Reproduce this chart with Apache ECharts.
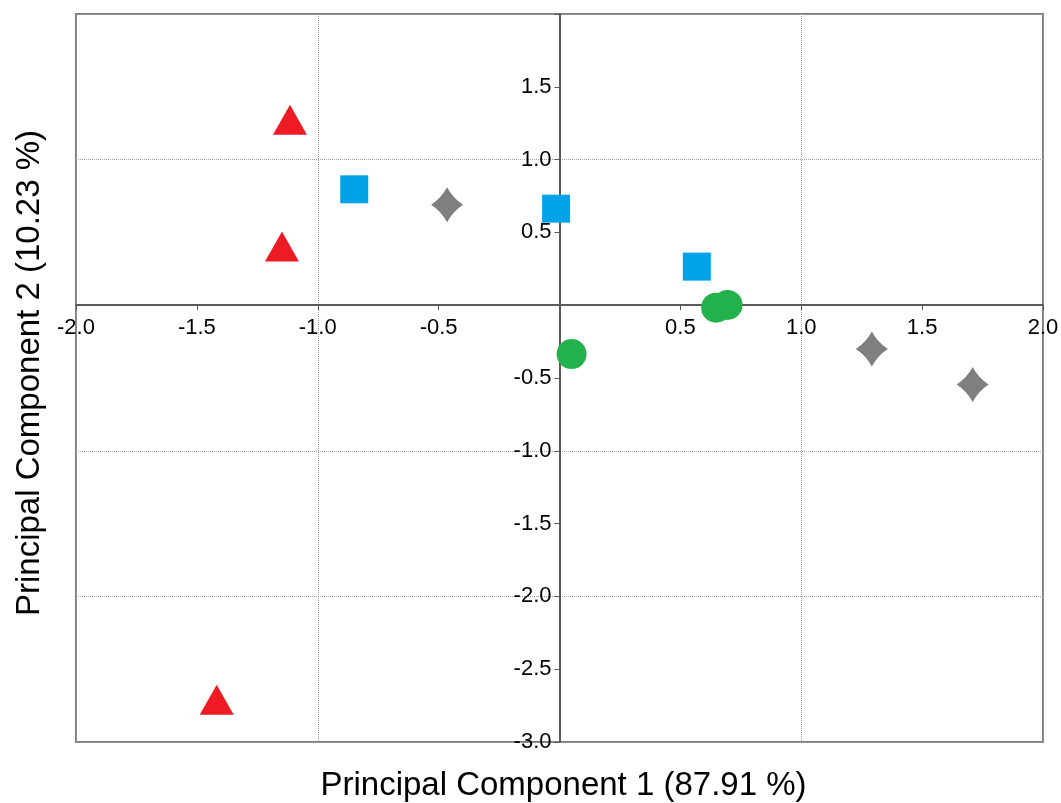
<!DOCTYPE html>
<html>
<head>
<meta charset="utf-8">
<title>PCA scores</title>
<script src="https://cdn.jsdelivr.net/npm/echarts@6/dist/echarts.min.js"></script>
<style>
  html, body { margin: 0; padding: 0; background: #fff; }
  #container { width: 1061px; height: 803px; }
</style>
</head>
<body>
<div id="container"></div>
<script>
// scores per group: [PC1, PC2]
const triangles = [[-1.115, 1.273], [-1.148, 0.403], [-1.418, -2.71]];
const squares = [[-0.849, 0.796], [-0.014, 0.663], [0.568, 0.265]];
const stars = [[-0.465, 0.69], [1.292, -0.30], [1.709, -0.544]];
const circles = [[0.05, -0.336], [0.648, -0.017], [0.695, 0.002]];

const xRange = [-2, 2];
const yRange = [-3, 2];
const xTitle = 'Principal Component 1 (87.91 %)';
const yTitle = 'Principal Component 2 (10.23 %)';

const font = '"Liberation Sans", Arial, sans-serif';
const starPath = 'path://M0,-10 Q3.7,-3.7 10,0 Q3.7,3.7 0,10 Q-3.7,3.7 -10,0 Q-3.7,-3.7 0,-10 Z';

const W = 1061, H = 803;
const gridBox = { left: 76, right: 18, top: 14, bottom: 61 };

// move the main axes in from the grid edge to the zero lines
const plotW = W - gridBox.left - gridBox.right;
const plotH = H - gridBox.top - gridBox.bottom;
const xZeroShift = plotH * (0 - yRange[0]) / (yRange[1] - yRange[0]);
const yZeroShift = plotW * (0 - xRange[0]) / (xRange[1] - xRange[0]);

const chart = echarts.init(document.getElementById('container'), null, { renderer: 'canvas' });

const fmt = (hideTop) => (v) => {
    if (Math.abs(v) < 1e-9) return '';
    if (hideTop && v > 1.99) return '';
    return v.toFixed(1);
};

const mainAxisLine = { onZero: false, lineStyle: { color: '#595959', width: 2 } };
const mainTick = { show: true, length: 5, lineStyle: { color: '#595959', width: 1 } };
const dotted = { show: true, lineStyle: { color: '#a0a0a0', type: 'dotted', width: 1 } };

const option = {
    animation: false,
    backgroundColor: '#fff',
    grid: Object.assign({
        show: true, borderColor: '#7f7f7f', borderWidth: 2,
        containLabel: false, outerBoundsMode: 'none'
    }, gridBox),
    xAxis: [
        {
            type: 'value', min: xRange[0], max: xRange[1], interval: 0.5,
            position: 'bottom', offset: -xZeroShift,
            axisLine: mainAxisLine, axisTick: mainTick,
            axisLabel: { color: '#000', fontSize: 22, fontFamily: font, margin: 12,
                showMinLabel: true, showMaxLabel: true, formatter: fmt(false) },
            splitLine: { show: false }, z: 5
        },
        {
            type: 'value', min: xRange[0], max: xRange[1], interval: 1, position: 'bottom',
            axisLine: { show: false, onZero: false }, axisTick: { show: false },
            axisLabel: { show: false }, splitLine: dotted,
            name: xTitle, nameLocation: 'middle', nameGap: 27,
            nameTextStyle: { color: '#000', fontSize: 33, fontFamily: font, padding: [0, 0, 0, 8] }
        }
    ],
    yAxis: [
        {
            type: 'value', min: yRange[0], max: yRange[1], interval: 0.5,
            position: 'left', offset: -yZeroShift,
            axisLine: mainAxisLine, axisTick: mainTick,
            axisLabel: { color: '#000', fontSize: 22, fontFamily: font, margin: 8,
                showMinLabel: true, showMaxLabel: true, formatter: fmt(true) },
            splitLine: { show: false }, z: 5
        },
        {
            type: 'value', min: yRange[0], max: yRange[1], interval: 1, position: 'left',
            axisLine: { show: false, onZero: false }, axisTick: { show: false },
            axisLabel: { show: false }, splitLine: dotted,
            name: yTitle, nameLocation: 'middle', nameGap: 30,
            nameTextStyle: { color: '#000', fontSize: 33, fontFamily: font, padding: [0, 0, 0, 10] }
        }
    ],
    series: [
        { type: 'scatter', data: triangles, symbol: 'triangle', symbolSize: [34, 30],
          itemStyle: { color: '#ed1c24', opacity: 1 }, z: 10 },
        { type: 'scatter', data: squares, symbol: 'rect', symbolSize: 28,
          itemStyle: { color: '#00a2e8', opacity: 1 }, z: 10 },
        { type: 'scatter', data: stars, symbol: starPath, symbolSize: [32, 35],
          itemStyle: { color: '#7f7f7f', opacity: 1 }, z: 10 },
        { type: 'scatter', data: circles, symbol: 'circle', symbolSize: 30,
          itemStyle: { color: '#22b14c', opacity: 1 }, z: 10 }
    ]
};

chart.setOption(option);
window.addEventListener('resize', () => chart.resize());
</script>
</body>
</html>
